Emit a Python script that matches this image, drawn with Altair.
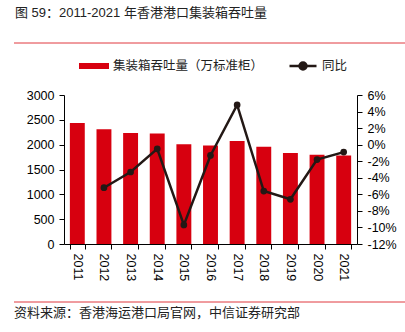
import altair as alt
import pandas as pd

years = ["2011", "2012", "2013", "2014", "2015", "2016", "2017", "2018", "2019", "2020", "2021"]
throughput = [2438, 2312, 2235, 2223, 2007, 1981, 2076, 1960, 1830, 1797, 1780]
yoy = [None, -5.2, -3.3, -0.5, -9.7, -1.3, 4.8, -5.6, -6.6, -1.8, -0.9]
bar_label = "集装箱吞吐量（万标准柜）"
line_label = "同比"
title_text = "图 59：2011-2021 年香港港口集装箱吞吐量"
source_text = "资料来源：香港海运港口局官网，中信证券研究部"
left_ticks = [0, 500, 1000, 1500, 2000, 2500, 3000]
right_ticks = [-12, -10, -8, -6, -4, -2, 0, 2, 4, 6]

FONT = "'Liberation Sans', 'Noto Sans CJK SC', sans-serif"
RED = "#D7000F"
DARK = "#231815"

# plot area in page pixels
PL, PT, PR, PB = 64, 95, 357, 244
W, H = PR - PL, PB - PT

df = pd.DataFrame({"year": years, "throughput": throughput, "yoy": yoy,
                   "s1": bar_label, "s2": line_label})
line_df = df.dropna(subset=["yoy"])

xenc = alt.X("year:N", title=None, sort=years,
             scale=alt.Scale(paddingInner=0.44, paddingOuter=0.22),
             axis=alt.Axis(labelAngle=90, tickBand="extent", labelPadding=4))

bars = alt.Chart(df).mark_bar(color=RED).encode(
    x=xenc,
    y=alt.Y("throughput:Q", title=None, scale=alt.Scale(domain=[0, 3000], nice=False),
            axis=alt.Axis(values=left_ticks, orient="left", format="d")),
    fill=alt.Fill("s1:N", scale=alt.Scale(range=[RED]),
                  legend=alt.Legend(title=None, orient="none", legendX=15, legendY=-44,
                                    symbolType="M-1,-0.2H1V0.2H-1Z", symbolSize=900,
                                    symbolStrokeWidth=0, padding=0)),
)

def yright():
    return alt.Y("yoy:Q", title=None, scale=alt.Scale(domain=[-12, 6], nice=False),
                 axis=alt.Axis(values=right_ticks, orient="right",
                               labelExpr="datum.value + '%'"))

line = alt.Chart(line_df).mark_line(strokeWidth=2.5).encode(
    x=alt.X("year:N", sort=years),
    y=yright(),
    stroke=alt.Stroke("s2:N", scale=alt.Scale(range=[DARK]),
                      legend=alt.Legend(title=None, orient="none", legendX=224, legendY=-44,
                                        symbolType="M-1,0H1M-0.26,0A0.26,0.26 0 1,0 0.26,0A0.26,0.26 0 1,0 -0.26,0Z",
                                        symbolSize=729, symbolStrokeWidth=2.5,
                                        symbolFillColor=DARK, padding=0)),
)
points = alt.Chart(line_df).mark_point(filled=True, size=45, color=DARK, opacity=1).encode(
    x=alt.X("year:N", sort=years),
    y=yright(),
)

right_layer = alt.layer(line, points)

title_mark = alt.Chart(pd.DataFrame({"t": [title_text]})).mark_text(
    align="left", baseline="middle", fontSize=13, font=FONT, color="#222222"
).encode(text="t:N", x=alt.value(15 - PL), y=alt.value(13 - PT))

source_mark = alt.Chart(pd.DataFrame({"t": [source_text]})).mark_text(
    align="left", baseline="middle", fontSize=13, font=FONT, color="#222222"
).encode(text="t:N", x=alt.value(14 - PL), y=alt.value(313 - PT))

rule_top = alt.Chart(pd.DataFrame({"a": [0]})).mark_rule(color="#E0393E", strokeWidth=1).encode(
    x=alt.value(14 - PL), x2=alt.value(405 - PL), y=alt.value(43 - PT))
rule_bot = alt.Chart(pd.DataFrame({"a": [0]})).mark_rule(color="#E0393E", strokeWidth=1).encode(
    x=alt.value(14 - PL), x2=alt.value(405 - PL), y=alt.value(302 - PT))

chart = alt.layer(bars, right_layer, title_mark, source_mark, rule_top, rule_bot).resolve_scale(
    y="independent", fill="independent", stroke="independent"
).properties(
    width=W, height=H,
    autosize=alt.AutoSizeParams(type="none"),
    padding={"left": PL, "top": PT, "right": 405 - PR, "bottom": 332 - PB},
).configure_view(stroke=None).configure_axis(
    grid=False, domainColor="black", tickColor="black", domainWidth=1, tickWidth=1,
    tickSize=5, labelPadding=5, labelColor="black", labelFont=FONT, labelFontSize=12.5,
).configure_legend(
    labelFont=FONT, labelFontSize=12.5, labelColor="#222222", labelOffset=4,
)

chart.save("out.html", embed_options={"renderer": "svg", "actions": False})
